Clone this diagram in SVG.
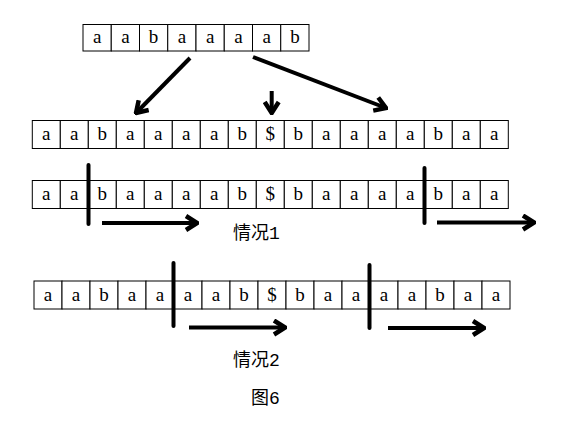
<svg xmlns="http://www.w3.org/2000/svg" width="568" height="435" viewBox="0 0 568 435">
<style>
.c{fill:#fff;stroke:#000;stroke-width:1}
.t{font-family:"Liberation Serif","DejaVu Serif",serif;font-size:19px;text-anchor:middle;fill:#000}
.lbl{font-family:"Liberation Mono","Noto Sans CJK SC",monospace;font-size:18px;fill:#000}
.ar{stroke:#000;stroke-width:4;fill:none;stroke-linecap:butt}
.dv{stroke:#000;stroke-width:4;stroke-linecap:round}
</style>
<defs>
<marker id="ah" viewBox="-14 -9 16 18" refX="0" refY="0" markerWidth="16" markerHeight="18" markerUnits="userSpaceOnUse" orient="auto">
<path d="M-11,-7 L0,0 L-11,7" fill="none" stroke="#000" stroke-width="4.5" stroke-linejoin="miter"/>
</marker>
</defs>
<rect width="568" height="435" fill="#fff"/>
<g id="row0">
<rect class="c" x="83" y="24.5" width="28.25" height="26.5"/><text class="t" x="97.1" y="43">a</text>
<rect class="c" x="111.25" y="24.5" width="28.25" height="26.5"/><text class="t" x="125.4" y="43">a</text>
<rect class="c" x="139.5" y="24.5" width="28.25" height="26.5"/><text class="t" x="153.6" y="43">b</text>
<rect class="c" x="167.75" y="24.5" width="28.25" height="26.5"/><text class="t" x="181.9" y="43">a</text>
<rect class="c" x="196" y="24.5" width="28.25" height="26.5"/><text class="t" x="210.1" y="43">a</text>
<rect class="c" x="224.25" y="24.5" width="28.25" height="26.5"/><text class="t" x="238.4" y="43">a</text>
<rect class="c" x="252.5" y="24.5" width="28.25" height="26.5"/><text class="t" x="266.6" y="43">a</text>
<rect class="c" x="280.75" y="24.5" width="28.25" height="26.5"/><text class="t" x="294.9" y="43">b</text>
</g>
<g id="row1">
<rect class="c" x="32.3" y="120.5" width="28" height="28"/><text class="t" x="46.3" y="140">a</text>
<rect class="c" x="60.3" y="120.5" width="28" height="28"/><text class="t" x="74.3" y="140">a</text>
<rect class="c" x="88.3" y="120.5" width="28" height="28"/><text class="t" x="102.3" y="140">b</text>
<rect class="c" x="116.3" y="120.5" width="28" height="28"/><text class="t" x="130.3" y="140">a</text>
<rect class="c" x="144.3" y="120.5" width="28" height="28"/><text class="t" x="158.3" y="140">a</text>
<rect class="c" x="172.3" y="120.5" width="28" height="28"/><text class="t" x="186.3" y="140">a</text>
<rect class="c" x="200.3" y="120.5" width="28" height="28"/><text class="t" x="214.3" y="140">a</text>
<rect class="c" x="228.3" y="120.5" width="28" height="28"/><text class="t" x="242.3" y="140">b</text>
<rect class="c" x="256.3" y="120.5" width="28" height="28"/><text class="t" x="270.3" y="140">$</text>
<rect class="c" x="284.3" y="120.5" width="28" height="28"/><text class="t" x="298.3" y="140">b</text>
<rect class="c" x="312.3" y="120.5" width="28" height="28"/><text class="t" x="326.3" y="140">a</text>
<rect class="c" x="340.3" y="120.5" width="28" height="28"/><text class="t" x="354.3" y="140">a</text>
<rect class="c" x="368.3" y="120.5" width="28" height="28"/><text class="t" x="382.3" y="140">a</text>
<rect class="c" x="396.3" y="120.5" width="28" height="28"/><text class="t" x="410.3" y="140">a</text>
<rect class="c" x="424.3" y="120.5" width="28" height="28"/><text class="t" x="438.3" y="140">b</text>
<rect class="c" x="452.3" y="120.5" width="28" height="28"/><text class="t" x="466.3" y="140">a</text>
<rect class="c" x="480.3" y="120.5" width="28" height="28"/><text class="t" x="494.3" y="140">a</text>
</g>
<g id="row2">
<rect class="c" x="32.3" y="180.5" width="28" height="28"/><text class="t" x="46.3" y="200">a</text>
<rect class="c" x="60.3" y="180.5" width="28" height="28"/><text class="t" x="74.3" y="200">a</text>
<rect class="c" x="88.3" y="180.5" width="28" height="28"/><text class="t" x="102.3" y="200">b</text>
<rect class="c" x="116.3" y="180.5" width="28" height="28"/><text class="t" x="130.3" y="200">a</text>
<rect class="c" x="144.3" y="180.5" width="28" height="28"/><text class="t" x="158.3" y="200">a</text>
<rect class="c" x="172.3" y="180.5" width="28" height="28"/><text class="t" x="186.3" y="200">a</text>
<rect class="c" x="200.3" y="180.5" width="28" height="28"/><text class="t" x="214.3" y="200">a</text>
<rect class="c" x="228.3" y="180.5" width="28" height="28"/><text class="t" x="242.3" y="200">b</text>
<rect class="c" x="256.3" y="180.5" width="28" height="28"/><text class="t" x="270.3" y="200">$</text>
<rect class="c" x="284.3" y="180.5" width="28" height="28"/><text class="t" x="298.3" y="200">b</text>
<rect class="c" x="312.3" y="180.5" width="28" height="28"/><text class="t" x="326.3" y="200">a</text>
<rect class="c" x="340.3" y="180.5" width="28" height="28"/><text class="t" x="354.3" y="200">a</text>
<rect class="c" x="368.3" y="180.5" width="28" height="28"/><text class="t" x="382.3" y="200">a</text>
<rect class="c" x="396.3" y="180.5" width="28" height="28"/><text class="t" x="410.3" y="200">a</text>
<rect class="c" x="424.3" y="180.5" width="28" height="28"/><text class="t" x="438.3" y="200">b</text>
<rect class="c" x="452.3" y="180.5" width="28" height="28"/><text class="t" x="466.3" y="200">a</text>
<rect class="c" x="480.3" y="180.5" width="28" height="28"/><text class="t" x="494.3" y="200">a</text>
</g>
<g id="row3">
<rect class="c" x="34" y="281" width="28" height="28"/><text class="t" x="48" y="300.5">a</text>
<rect class="c" x="62" y="281" width="28" height="28"/><text class="t" x="76" y="300.5">a</text>
<rect class="c" x="90" y="281" width="28" height="28"/><text class="t" x="104" y="300.5">b</text>
<rect class="c" x="118" y="281" width="28" height="28"/><text class="t" x="132" y="300.5">a</text>
<rect class="c" x="146" y="281" width="28" height="28"/><text class="t" x="160" y="300.5">a</text>
<rect class="c" x="174" y="281" width="28" height="28"/><text class="t" x="188" y="300.5">a</text>
<rect class="c" x="202" y="281" width="28" height="28"/><text class="t" x="216" y="300.5">a</text>
<rect class="c" x="230" y="281" width="28" height="28"/><text class="t" x="244" y="300.5">b</text>
<rect class="c" x="258" y="281" width="28" height="28"/><text class="t" x="272" y="300.5">$</text>
<rect class="c" x="286" y="281" width="28" height="28"/><text class="t" x="300" y="300.5">b</text>
<rect class="c" x="314" y="281" width="28" height="28"/><text class="t" x="328" y="300.5">a</text>
<rect class="c" x="342" y="281" width="28" height="28"/><text class="t" x="356" y="300.5">a</text>
<rect class="c" x="370" y="281" width="28" height="28"/><text class="t" x="384" y="300.5">a</text>
<rect class="c" x="398" y="281" width="28" height="28"/><text class="t" x="412" y="300.5">a</text>
<rect class="c" x="426" y="281" width="28" height="28"/><text class="t" x="440" y="300.5">b</text>
<rect class="c" x="454" y="281" width="28" height="28"/><text class="t" x="468" y="300.5">a</text>
<rect class="c" x="482" y="281" width="28" height="28"/><text class="t" x="496" y="300.5">a</text>
</g>
<g id="connectors">
<line class="ar" x1="190" y1="58" x2="136" y2="113" marker-end="url(#ah)"/>
<line class="ar" x1="271.7" y1="91" x2="271.7" y2="113" marker-end="url(#ah)"/>
<line class="ar" x1="253" y1="57" x2="386" y2="108" marker-end="url(#ah)"/>
<line class="dv" x1="88.5" y1="165" x2="88.5" y2="224"/>
<line class="ar" x1="102" y1="223" x2="197" y2="223" marker-end="url(#ah)"/>
<line class="dv" x1="424.5" y1="168" x2="424.5" y2="223"/>
<line class="ar" x1="437" y1="222.5" x2="534" y2="222.5" marker-end="url(#ah)"/>
<line class="dv" x1="173.5" y1="263" x2="173.5" y2="326"/>
<line class="ar" x1="189" y1="327.5" x2="285" y2="327.5" marker-end="url(#ah)"/>
<line class="dv" x1="369.5" y1="265" x2="369.5" y2="328"/>
<line class="ar" x1="388" y1="328" x2="484" y2="328" marker-end="url(#ah)"/>
</g>
<g id="labels">
<text class="lbl" x="233" y="239">情况1</text>
<text class="lbl" x="233" y="366">情况2</text>
<text class="lbl" x="251" y="404">图6</text>
</g>
</svg>
